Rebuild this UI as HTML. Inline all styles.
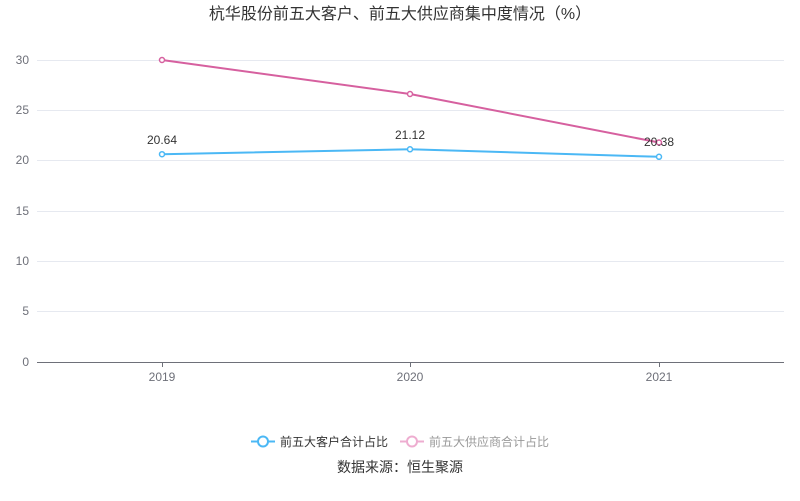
<!DOCTYPE html>
<html><head><meta charset="utf-8"><style>
body{margin:0;background:#fff;}
svg{display:block;font-family:"Liberation Sans","Noto Sans CJK SC",sans-serif;}
</style></head><body>
<svg width="800" height="501" viewBox="0 0 800 501">
<text x="400" y="19" text-anchor="middle" font-size="16" fill="#333">杭华股份前五大客户、前五大供应商集中度情况（%）</text>
<g stroke="#e6e9f0" stroke-width="1">
<line x1="37" x2="784" y1="60.5" y2="60.5"/>
<line x1="37" x2="784" y1="110.5" y2="110.5"/>
<line x1="37" x2="784" y1="160.5" y2="160.5"/>
<line x1="37" x2="784" y1="211.5" y2="211.5"/>
<line x1="37" x2="784" y1="261.5" y2="261.5"/>
<line x1="37" x2="784" y1="311.5" y2="311.5"/>
</g>
<line x1="37" x2="784" y1="362.5" y2="362.5" stroke="#6e7079"/>
<g stroke="#6e7079"><line x1="162.5" x2="162.5" y1="362" y2="367"/><line x1="410.5" x2="410.5" y1="362" y2="367"/><line x1="659.5" x2="659.5" y1="362" y2="367"/></g>
<g font-size="12" fill="#6e7079" text-anchor="end">
<text x="29" y="64">30</text><text x="29" y="114">25</text><text x="29" y="164">20</text>
<text x="29" y="215">15</text><text x="29" y="265">10</text><text x="29" y="315">5</text><text x="29" y="366">0</text>
</g>
<g font-size="12" fill="#6e7079" text-anchor="middle">
<text x="162" y="381">2019</text><text x="410" y="381">2020</text><text x="659" y="381">2021</text>
</g>
<polyline points="162,60 410,94 659,142.5" fill="none" stroke="#d6609f" stroke-width="2"/>
<polyline points="162,154.2 410,149.3 659,156.8" fill="none" stroke="#4bb8f5" stroke-width="2"/>
<g fill="#fff" stroke="#d6609f" stroke-width="1.5"><circle cx="162" cy="60" r="2.5"/><circle cx="410" cy="94" r="2.5"/><circle cx="659" cy="142.5" r="2.5"/></g>
<g fill="#fff" stroke="#4bb8f5" stroke-width="1.5"><circle cx="162" cy="154.2" r="2.5"/><circle cx="410" cy="149.3" r="2.5"/><circle cx="659" cy="156.8" r="2.5"/></g>
<g font-size="12" fill="#333" text-anchor="middle">
<text x="162" y="144">20.64</text><text x="410" y="139">21.12</text><text x="659" y="146">20.38</text>
</g>
<line x1="251" x2="275" y1="441.5" y2="441.5" stroke="#4bb8f5" stroke-width="2"/>
<circle cx="263" cy="441.5" r="5" fill="#fff" stroke="#4bb8f5" stroke-width="2"/>
<text x="280" y="446" font-size="12" fill="#333">前五大客户合计占比</text>
<line x1="400" x2="424" y1="441.5" y2="441.5" stroke="#eeadd0" stroke-width="2"/>
<circle cx="412" cy="441.5" r="5" fill="#fff" stroke="#eeadd0" stroke-width="2"/>
<text x="429" y="446" font-size="12" fill="#999">前五大供应商合计占比</text>
<text x="400" y="472" text-anchor="middle" font-size="14" fill="#333">数据来源：恒生聚源</text>
</svg>
</body></html>
